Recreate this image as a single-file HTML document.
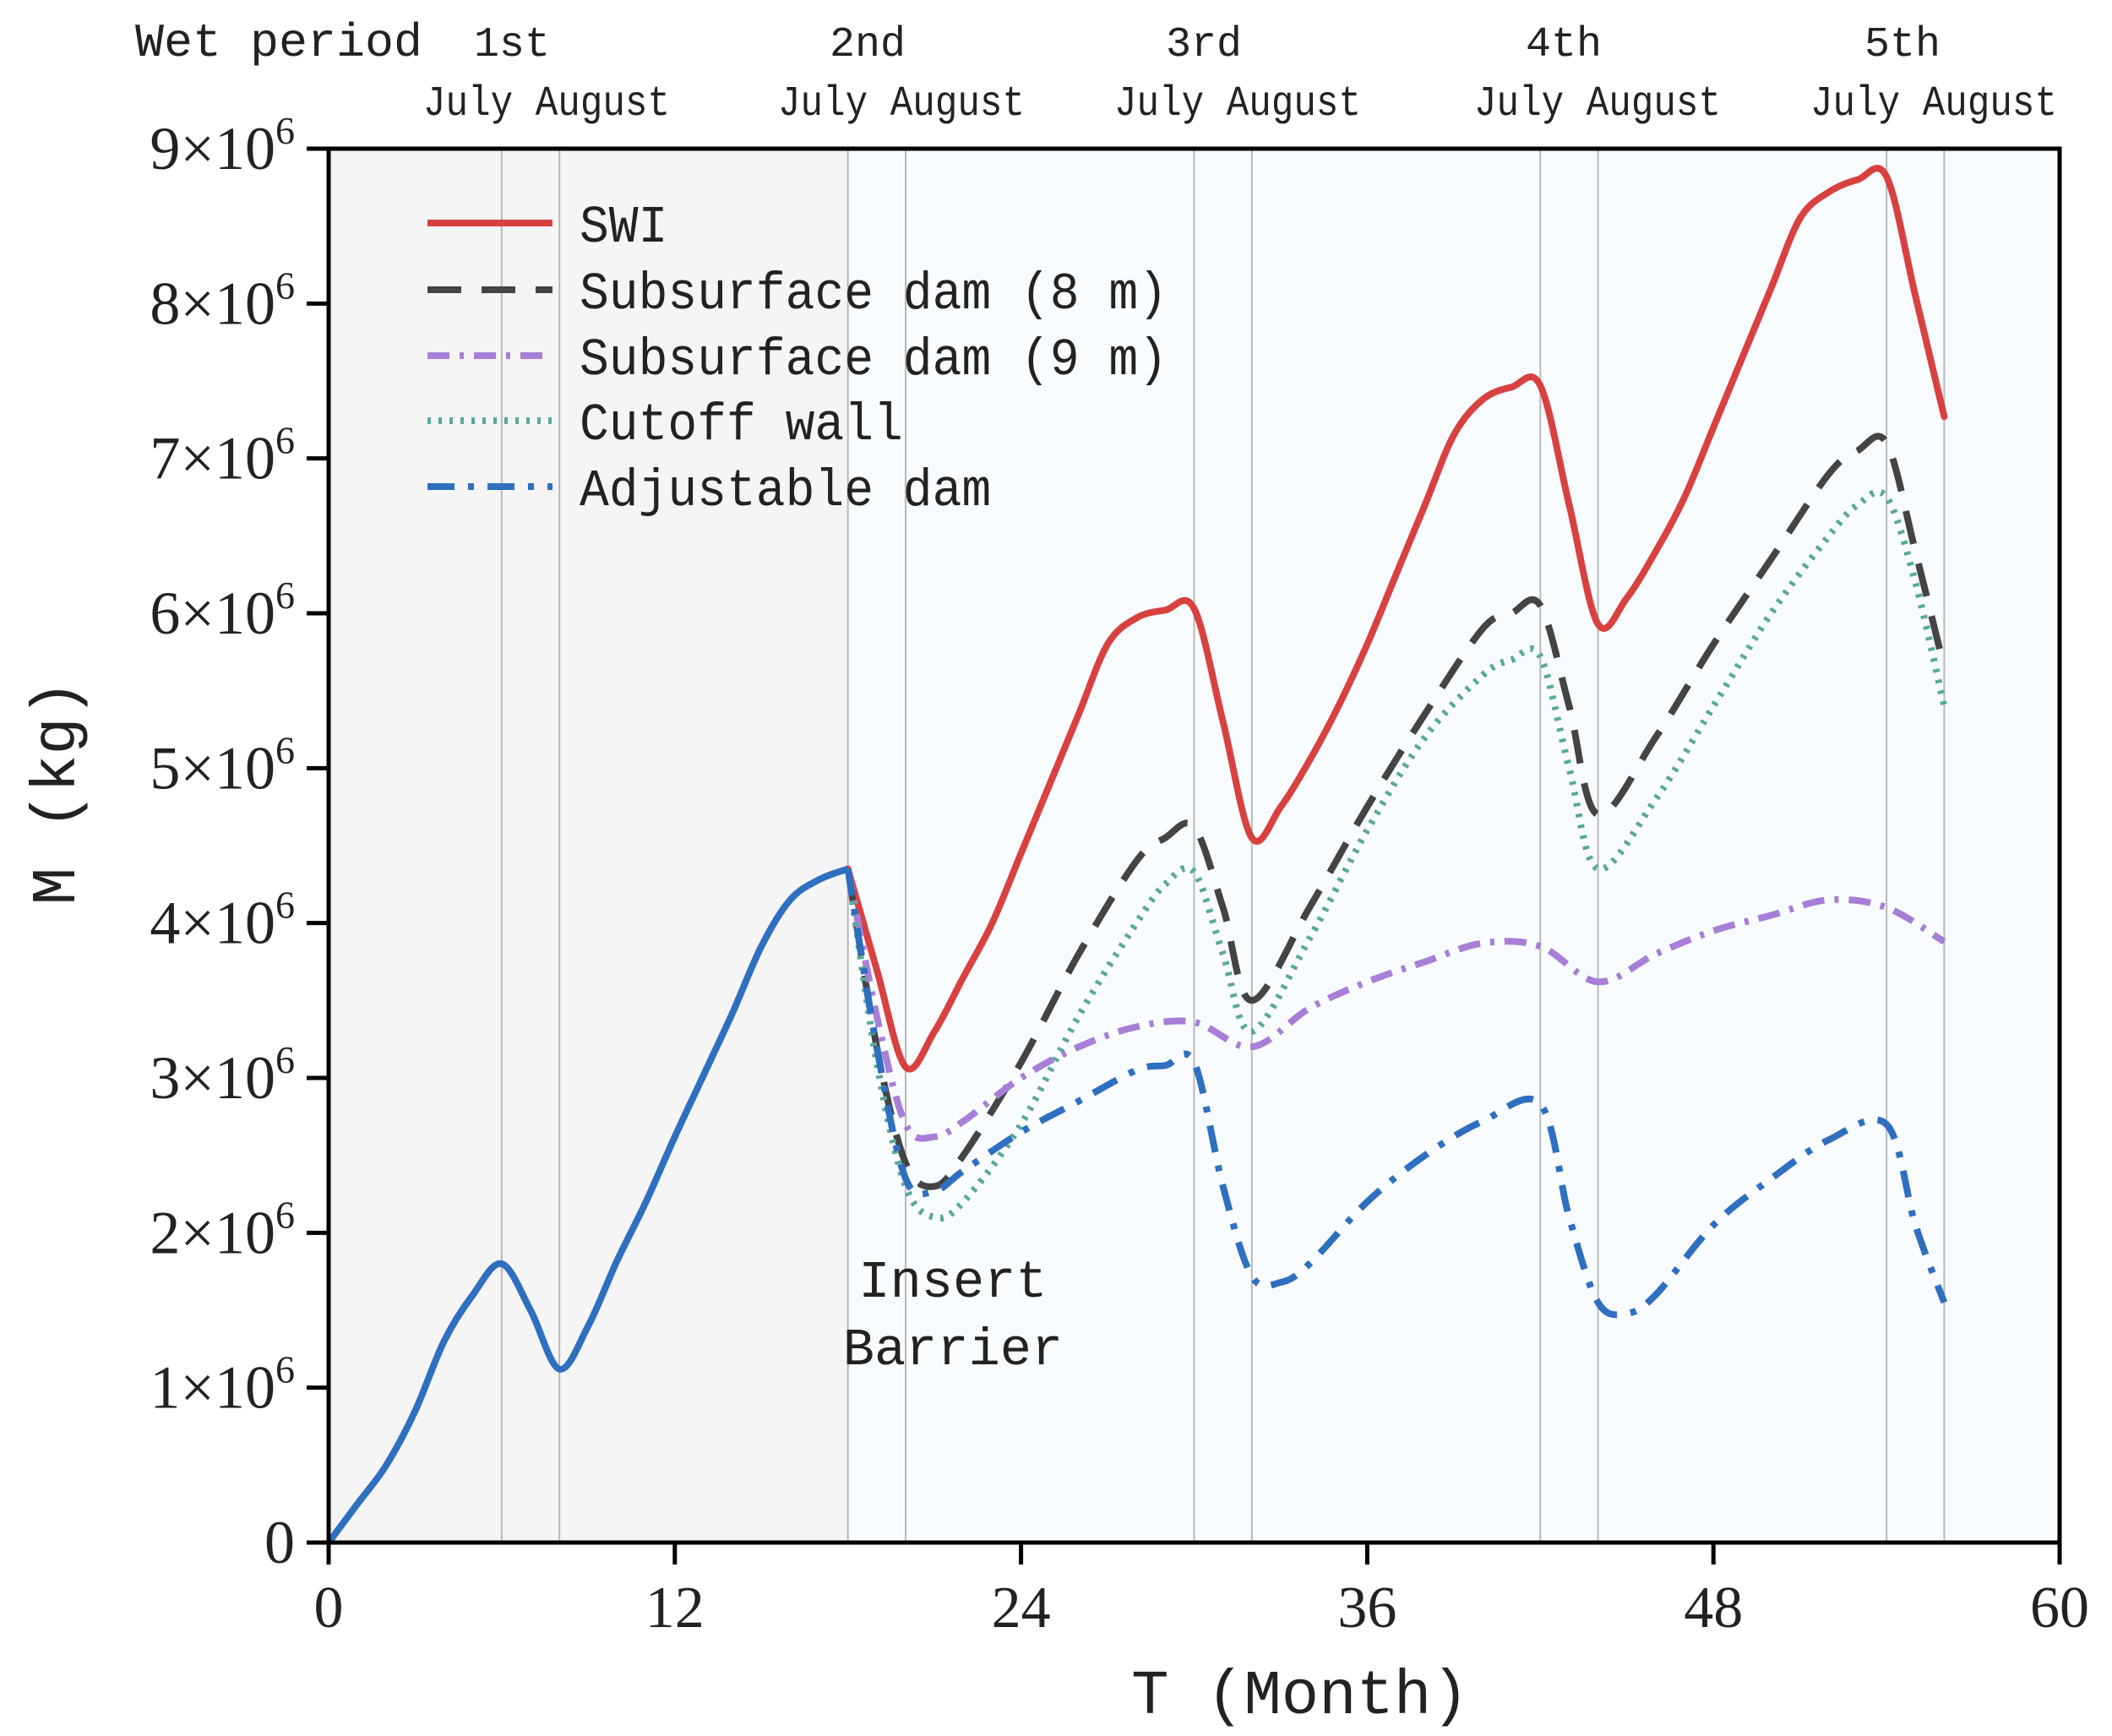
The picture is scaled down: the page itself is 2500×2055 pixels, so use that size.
<!DOCTYPE html>
<html><head><meta charset="utf-8"><style>
html,body{margin:0;padding:0;background:#fff;width:2500px;height:2055px;overflow:hidden}
svg text{font-family:"Liberation Mono","DejaVu Sans Mono",monospace;fill:#222}
.tk{font-family:"Liberation Serif",serif}
</style></head><body>
<svg id="chart" width="2500" height="2055" viewBox="0 0 2500 2055" xmlns="http://www.w3.org/2000/svg">
<g id="bg"></g>
<g id="vlines"></g>
<g id="series"></g>
<g id="axes"></g>
<g id="labels"></g>
</svg>
<script>
const xTicks=[0,12,24,36,48,60];
const yTicks=[0,1,2,3,4,5,6,7,8,9];
const eventMonths=[6,8,18,20,30,32,42,44,54,56];
const periodNames=["1st","2nd","3rd","4th","5th"];
const common=[[0,0],[1,0.25],[2,0.5],[3,0.85],[4,1.3],[5,1.6],[6,1.8],[7,1.5],[8,1.12],[9,1.4],[10,1.82],[11,2.2],[12,2.62],[13,3.02],[14,3.42],[15,3.85],[16,4.15],[17,4.28],[18,4.35]];
const swi=[[19,3.7],[20,3.07],[21,3.3],[22,3.65],[23,4.0],[24,4.45],[25,4.9],[26,5.35],[27,5.8],[28,5.97],[29,6.02],[30,6.03],[31,5.3],[32,4.55],[33,4.75],[34,5.05],[35,5.4],[36,5.8],[37,6.25],[38,6.7],[39,7.15],[40,7.38],[41,7.46],[42,7.47],[43,6.7],[44,5.93],[45,6.1],[46,6.4],[47,6.75],[48,7.2],[49,7.65],[50,8.1],[51,8.55],[52,8.72],[53,8.8],[54,8.82],[55,8.05],[56,7.27]];
const dam8=[[19,3.2],[20,2.45],[21,2.3],[22,2.5],[24,3.1],[26,3.8],[28,4.4],[29,4.55],[30,4.62],[31,4.1],[32,3.5],[34,4.1],[36,4.75],[38,5.35],[40,5.9],[41,6.0],[42,6.05],[43,5.4],[44,4.7],[46,5.2],[48,5.8],[50,6.35],[52,6.9],[53,7.05],[54,7.1],[55,6.4],[56,5.65]];
const dam9=[[19,3.4],[20,2.7],[21,2.62],[22,2.72],[24,3.0],[26,3.2],[28,3.33],[30,3.36],[32,3.2],[34,3.45],[36,3.62],[38,3.75],[40,3.87],[42,3.85],[44,3.62],[46,3.8],[48,3.95],[50,4.05],[52,4.15],[54,4.1],[56,3.88]];
const cutoff=[[19,3.1],[20,2.3],[21,2.1],[22,2.2],[24,2.7],[26,3.4],[28,4.0],[29,4.25],[30,4.33],[31,3.8],[32,3.3],[34,3.9],[36,4.6],[38,5.2],[40,5.6],[41,5.7],[42,5.72],[43,5.0],[44,4.35],[46,4.8],[48,5.4],[50,6.0],[52,6.5],[53,6.7],[54,6.75],[55,6.2],[56,5.4]];
const adjust=[[19,3.2],[20,2.35],[21,2.27],[22,2.4],[24,2.65],[26,2.85],[28,3.05],[29,3.08],[30,3.1],[31,2.3],[32,1.72],[33,1.68],[34,1.8],[36,2.2],[38,2.5],[40,2.72],[42,2.83],[43,2.1],[44,1.55],[45,1.48],[46,1.6],[48,2.05],[50,2.35],[52,2.6],[54,2.7],[55,2.05],[56,1.55]];

const L=389,R=2438,T=176,B=1826;
const X=m=>L+m*(R-L)/60, Y=v=>B-v*(B-T)/9;
const NS="http://www.w3.org/2000/svg";
function mk(tag,parent,attrs){const e=document.createElementNS(NS,tag);for(const k in attrs)e.setAttribute(k,attrs[k]);document.getElementById(parent).appendChild(e);return e;}
function path(pts){
  const P=pts.map(p=>[X(p[0]),Y(p[1])]);
  let d="M"+P[0][0].toFixed(1)+","+P[0][1].toFixed(1);
  for(let i=0;i<P.length-1;i++){
    const p0=P[i-1]||P[i],p1=P[i],p2=P[i+1],p3=P[i+2]||P[i+1];
    const c1=[p1[0]+(p2[0]-p0[0])/6,p1[1]+(p2[1]-p0[1])/6];
    const c2=[p2[0]-(p3[0]-p1[0])/6,p2[1]-(p3[1]-p1[1])/6];
    d+=" C"+c1[0].toFixed(1)+","+c1[1].toFixed(1)+" "+c2[0].toFixed(1)+","+c2[1].toFixed(1)+" "+p2[0].toFixed(1)+","+p2[1].toFixed(1);
  }
  return d;
}

let r=mk("rect","bg",{x:L,y:T,width:X(18)-L,height:B-T,fill:"#f5f5f5"});


r=mk("rect","bg",{x:X(18),y:T,width:R-X(18),height:B-T,fill:"#f9fcfe"});


eventMonths.forEach(m=>{const l=mk("line","vlines",{x1:X(m),x2:X(m),y1:T,y2:B,stroke:"#b8b8b8","stroke-width":2});

});

const defs=[
 {n:"series-swi",d:swi,c:"#d94141",da:"none"},
 {n:"series-dam-8m",d:dam8,c:"#444",da:"40 24"},
 {n:"series-dam-9m",d:dam9,c:"#a77fd6",da:"26 12 5 12"},
 {n:"series-cutoff-wall",d:cutoff,c:"#5aa89a",da:"4 9"},
 {n:"series-adjustable-dam",d:adjust,c:"#2f6fc0",da:"32 16 7 16"}];
defs.forEach(s=>{const p=mk("path","series",{d:path([common[common.length-1]].concat(s.d)),fill:"none",stroke:s.c,"stroke-width":8,"stroke-dasharray":s.da,"stroke-linejoin":"round","stroke-linecap":s.da==="none"?"round":"butt"});

});
let cp=mk("path","series",{d:path(common),fill:"none",stroke:"#2f6fc0","stroke-width":8,"stroke-linejoin":"round"});



let fr=mk("rect","axes",{x:L,y:T,width:R-L,height:B-T,fill:"none",stroke:"#000","stroke-width":5});


xTicks.forEach(t=>{const l=mk("line","axes",{x1:X(t),x2:X(t),y1:B,y2:B+26,stroke:"#000","stroke-width":5});


const tx=mk("text","axes",{x:X(t),y:B+100,"text-anchor":"middle","font-size":70,class:"tk"});tx.textContent=t;

});
yTicks.forEach(t=>{const l=mk("line","axes",{x1:L-26,x2:L,y1:Y(t),y2:Y(t),stroke:"#000","stroke-width":5});


const tx=mk("text","axes",{x:L-40,y:Y(t)+24,"text-anchor":"end","font-size":72,class:"tk"});
tx.innerHTML=t===0?"0":t+"×10<tspan dy='-30' font-size='46'>6</tspan>";

});
</script>
<script>
(function(){
const NS="http://www.w3.org/2000/svg";
function t(x,y,s,txt,name,anchor,extra){const e=document.createElementNS(NS,"text");e.setAttribute("x",x);e.setAttribute("y",y);e.setAttribute("font-size",s);e.setAttribute("text-anchor",anchor||"start");if(extra)for(const k in extra)e.setAttribute(k,extra[k]);e.textContent=txt;


document.getElementById("labels").appendChild(e);return e;}
t(160,66,56,"Wet period","wet-period-label","start",{textLength:340,lengthAdjust:"spacingAndGlyphs"});
const oc=[606,1027,1425,1851,2252], jc=[647,1067,1465,1891,2289];
periodNames.forEach((n,i)=>{t(oc[i],66,50,n,"period-label","middle");t(jc[i],136,50,"July August","month-label","middle",{textLength:292,lengthAdjust:"spacingAndGlyphs"});});
const leg=[["SWI","#d94141","none"],["Subsurface dam (8 m)","#444","40 24"],["Subsurface dam (9 m)","#a77fd6","26 12 5 12"],["Cutoff wall","#5aa89a","4 9"],["Adjustable dam","#2f6fc0","32 16 7 16"]];
const ly=[264,343,421,498,576];
leg.forEach((l,i)=>{const ln=document.createElementNS(NS,"line");ln.setAttribute("x1",506);ln.setAttribute("x2",654);ln.setAttribute("y1",ly[i]);ln.setAttribute("y2",ly[i]);ln.setAttribute("stroke",l[1]);ln.setAttribute("stroke-width",8);ln.setAttribute("stroke-dasharray",l[2]);


document.getElementById("labels").appendChild(ln);
t(686,ly[i]+22,62,l[0],"legend-entry","start",{textLength:l[0].length*34.8,lengthAdjust:"spacingAndGlyphs"});});
t(1128,1535,62,"Insert","annotation-insert","middle",{"font-family":"Liberation Serif, serif"});
t(1128,1615,62,"Barrier","annotation-barrier","middle",{"font-family":"Liberation Serif, serif"});
t(1539,2028,74,"T (Month)","x-axis-title","middle",{"font-family":"Liberation Serif, serif"});
t(0,0,74,"M (kg)","y-axis-title","middle",{"font-family":"Liberation Serif, serif",transform:"translate(88,938) rotate(-90)"});
})();
</script>
</body></html>
